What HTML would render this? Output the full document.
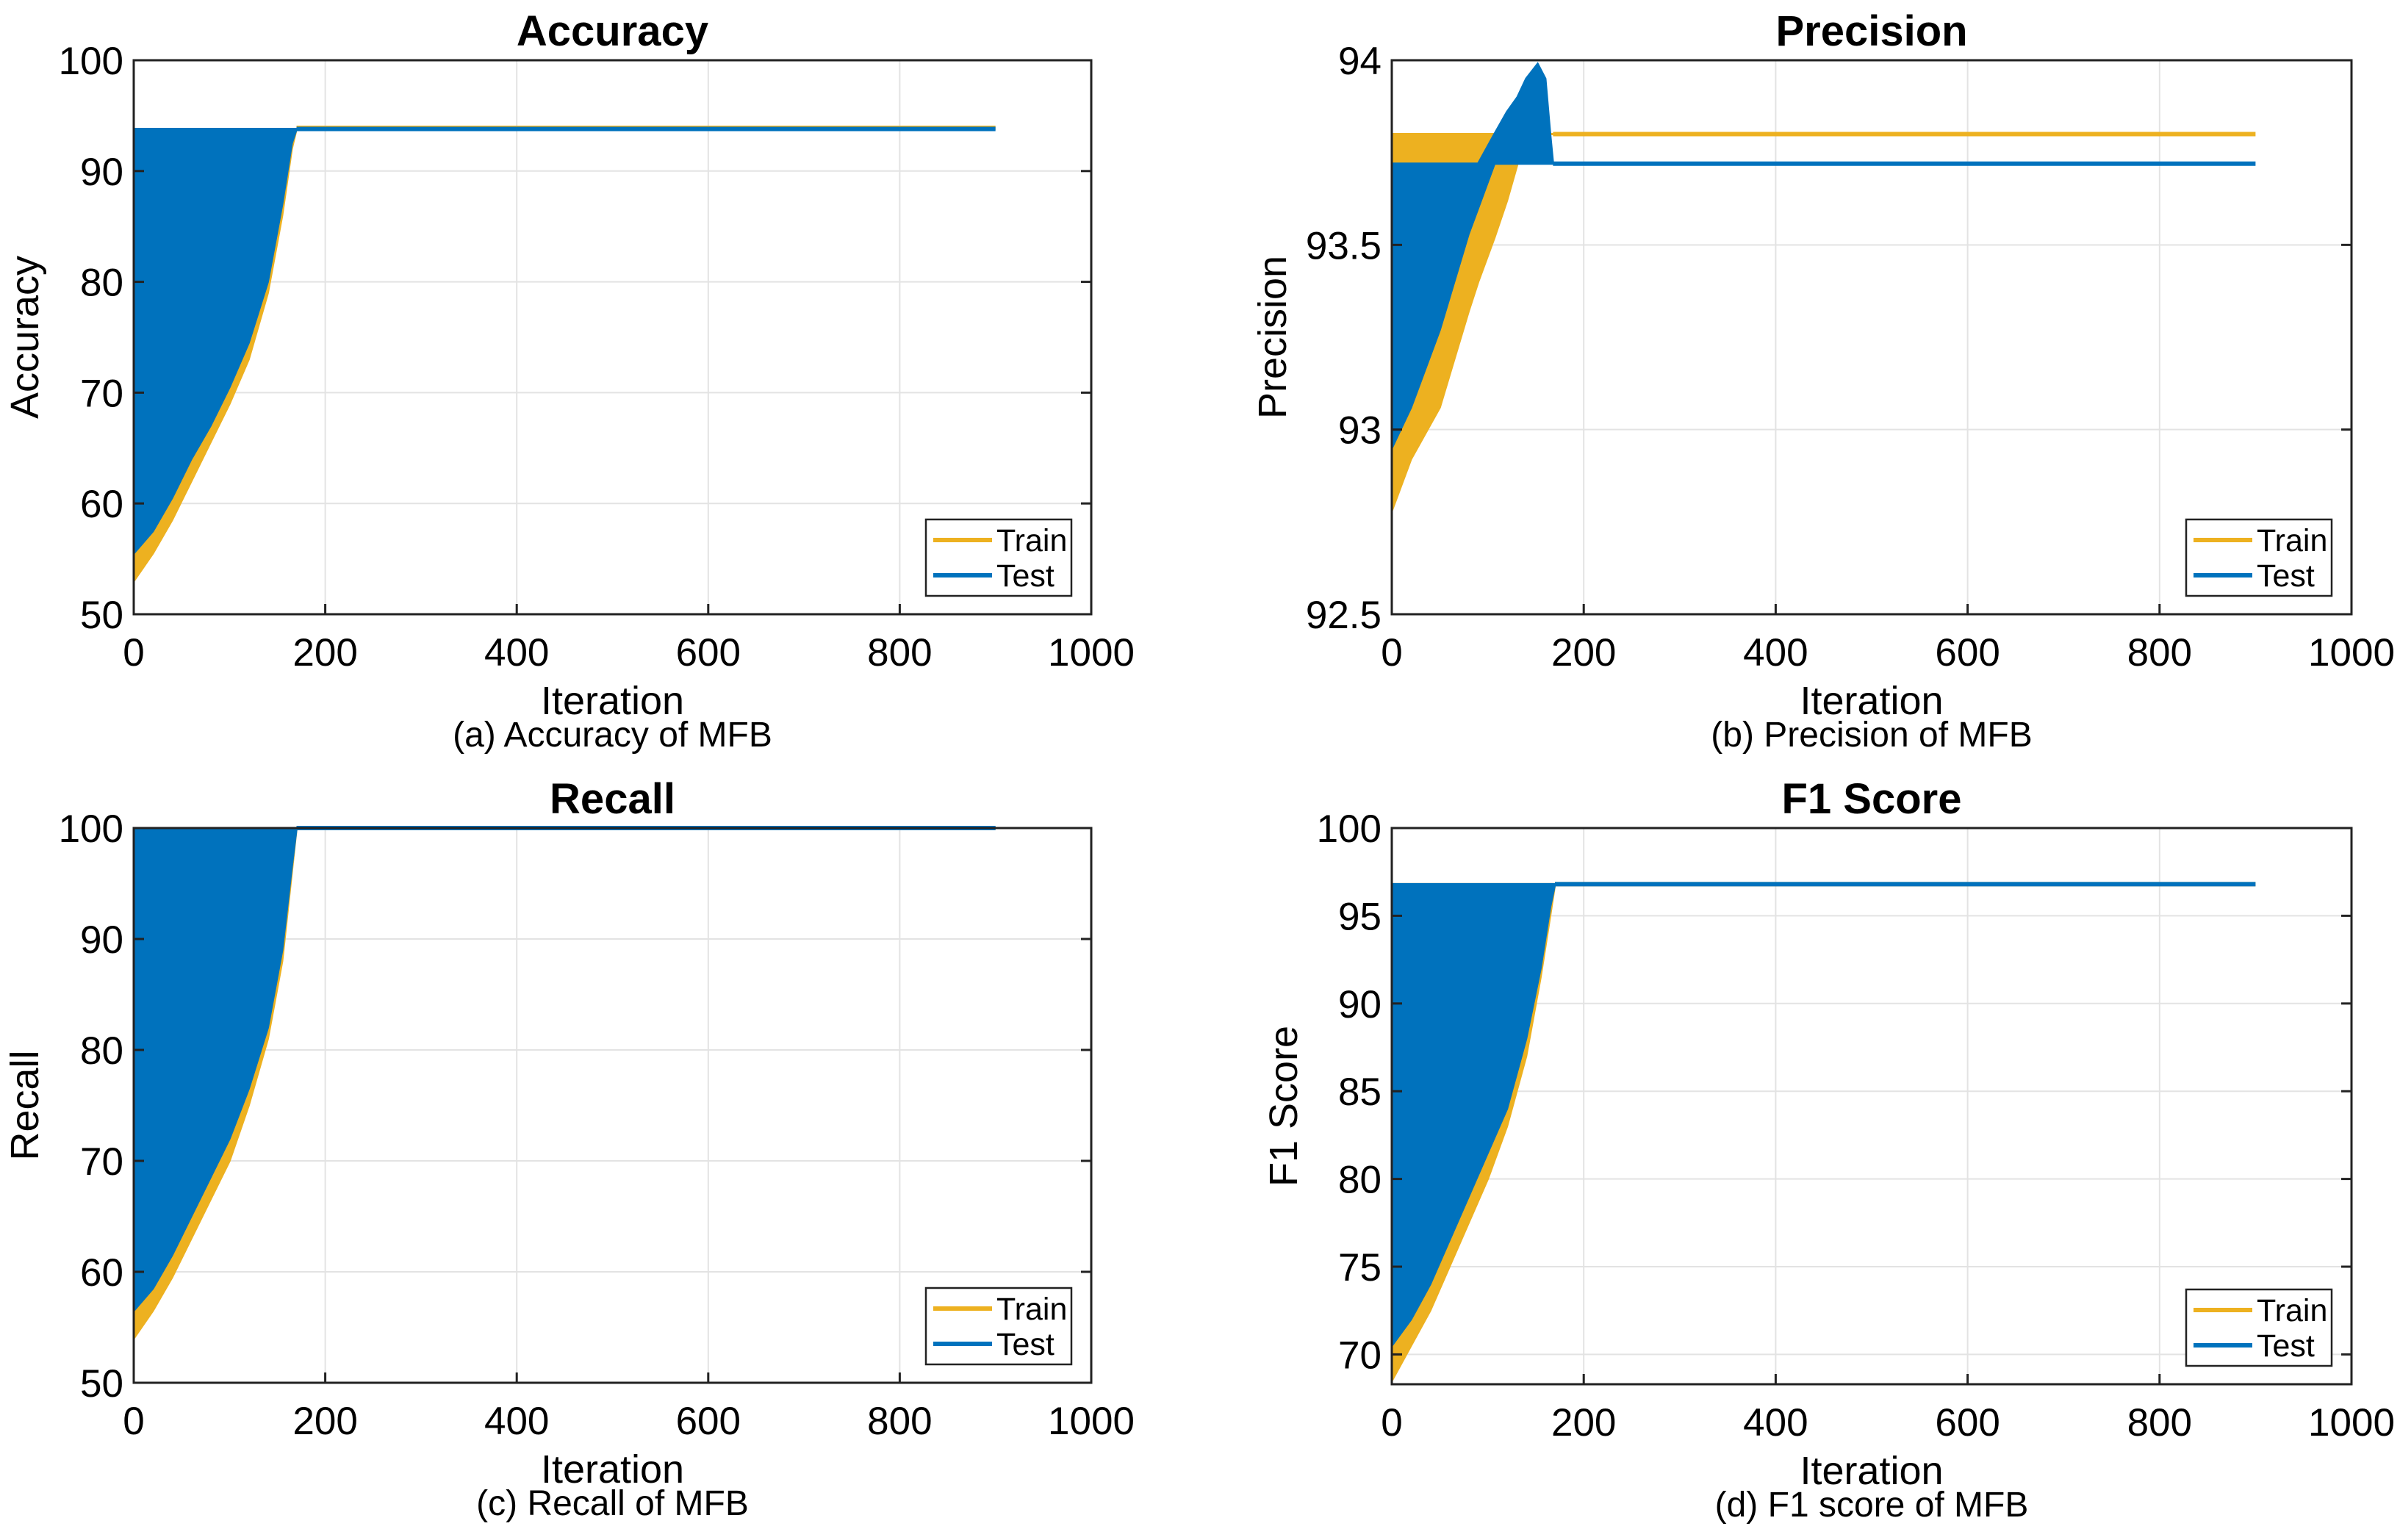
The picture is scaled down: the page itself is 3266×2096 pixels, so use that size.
<!DOCTYPE html>
<html><head><meta charset="utf-8">
<style>
html,body{margin:0;padding:0;background:#fff;}
svg{display:block;}
text{font-family:"Liberation Sans",sans-serif;fill:#000;}
</style></head>
<body>
<svg id="fig" width="3266" height="2096" viewBox="0 0 3266 2096" xmlns="http://www.w3.org/2000/svg"></svg>
<script>
// ---- data ----
const accIter = [0,20,40,60,80,100,120,140,155,165,170];
const accTrainUp = [93.8,93.8,93.8,93.8,93.8,93.8,93.8,93.8,93.8,93.8,93.8];
const accTrainLow = [53,55.5,58.5,62,65.5,69,73,79,86,92,93.8];
const accTestUp = [93.8,93.8,93.8,93.8,93.8,93.8,93.8,93.8,93.8,93.8,93.8];
const accTestLow = [55.5,57.5,60.5,64,67,70.5,74.5,80,87,92.5,93.8];
const accFinal = [93.9,93.8];

const precIter = [0,20,50,80,90,107,120,131,140,152,160,165,168];
const precTrainUp = [93.8,93.8,93.8,93.8,93.8,93.8,93.8,93.8,93.8,93.82,93.9,93.8,93.8];
const precTrainLow = [92.78,92.92,93.06,93.32,93.4,93.52,93.62,93.72,93.8,93.8,93.8,93.8,93.8];
const precTestUp = [93.72,93.72,93.72,93.72,93.72,93.8,93.86,93.9,93.95,93.99,93.95,93.8,93.72];
const precTestLow = [92.95,93.06,93.27,93.53,93.6,93.72,93.72,93.72,93.72,93.72,93.72,93.72,93.72];
const precFinal = [93.8,93.72];

const recIter = [0,20,40,60,80,100,120,140,155,165,170];
const recTrainUp = [100,100,100,100,100,100,100,100,100,100,100];
const recTrainLow = [54,56.5,59.5,63,66.5,70,75,81,88,96,100];
const recTestUp = [100,100,100,100,100,100,100,100,100,100,100];
const recTestLow = [56.5,58.5,61.5,65,68.5,72,76.5,82,89,96.5,100];
const recFinal = [100,100];

const f1Iter = [0,20,40,60,80,100,120,140,155,165,170];
const f1TrainUp = [96.8,96.8,96.8,96.8,96.8,96.8,96.8,96.8,96.8,96.8,96.8];
const f1TrainLow = [68.5,70.5,72.5,75,77.5,80,83,87,91.5,95,96.8];
const f1TestUp = [96.8,96.8,96.8,96.8,96.8,96.8,96.8,96.8,96.8,96.8,96.8];
const f1TestLow = [70.5,72,74,76.5,79,81.5,84,88,92,95.5,96.8];
const f1Final = [96.8,96.8];

const lastIter = 900;
const xTicks = [0,200,400,600,800,1000];
const accYTicks = [50,60,70,80,90,100];
const precYTicks = [92.5,93,93.5,94];
const recYTicks = [50,60,70,80,90,100];
const f1YTicks = [70,75,80,85,90,95,100];

const NS = "http://www.w3.org/2000/svg";
const svg = document.getElementById('fig');
const BLUE = "#0072BD", YEL = "#EDB120";

function mk(tag, attrs, parent){
  const e = document.createElementNS(NS, tag);
  for (const k in attrs) e.setAttribute(k, attrs[k]);
  (parent||svg).appendChild(e);
  return e;
}

function panel(cfg){
  const g = mk('g', {});
  
  
  const X = v => cfg.x0 + (v - 0) / 1000 * (cfg.x1 - cfg.x0);
  const Y = v => cfg.y1 - (v - cfg.ymin) / (cfg.ymax - cfg.ymin) * (cfg.y1 - cfg.y0);
  xTicks.forEach(t => {
    const l = mk('line', {x1:X(t), x2:X(t), y1:cfg.y0, y2:cfg.y1, stroke:'#e3e3e3', 'stroke-width':2}, g);
    
    
  });
  cfg.yTicks.forEach(t => {
    const l = mk('line', {x1:cfg.x0, x2:cfg.x1, y1:Y(t), y2:Y(t), stroke:'#e3e3e3', 'stroke-width':2}, g);
    
    
  });
  function band(up, low, color, name){
    let pts = [];
    cfg.iter.forEach((it,i) => pts.push(X(it)+','+Y(up[i])));
    for (let i = cfg.iter.length-1; i >= 0; i--) pts.push(X(cfg.iter[i])+','+Y(low[i]));
    const p = mk('polygon', {points:pts.join(' '), fill:color, stroke:color, 'stroke-width':3}, g);
    
    
  }
  band(cfg.trainUp, cfg.trainLow, YEL, 'train-band');
  const itEnd = cfg.iter[cfg.iter.length-1];
  const trl = mk('line', {x1:X(itEnd), x2:X(lastIter), y1:Y(cfg.final[0]), y2:Y(cfg.final[0]), stroke:YEL, 'stroke-width':6}, g);
  
  
  band(cfg.testUp, cfg.testLow, BLUE, 'test-band');
  const tel = mk('line', {x1:X(itEnd), x2:X(lastIter), y1:Y(cfg.final[1]), y2:Y(cfg.final[1]), stroke:BLUE, 'stroke-width':6}, g);
  
  
  const box = mk('rect', {x:cfg.x0, y:cfg.y0, width:cfg.x1-cfg.x0, height:cfg.y1-cfg.y0, fill:'none', stroke:'#222', 'stroke-width':3}, g);
  
  
  xTicks.forEach(t => {
    const tk = mk('line', {x1:X(t), x2:X(t), y1:cfg.y1, y2:cfg.y1-14, stroke:'#222', 'stroke-width':3}, g);
    
    
    const tx = mk('text', {x:X(t), y:cfg.y1+70, 'text-anchor':'middle', 'font-size':53}, g);
    tx.textContent = t;
    
    
  });
  cfg.yTicks.forEach(t => {
    const tk = mk('line', {x1:cfg.x0, x2:cfg.x0+14, y1:Y(t), y2:Y(t), stroke:'#222', 'stroke-width':3}, g);
    
    
    const tk2 = mk('line', {x1:cfg.x1, x2:cfg.x1-14, y1:Y(t), y2:Y(t), stroke:'#222', 'stroke-width':3}, g);
    
    
    const tx = mk('text', {x:cfg.x0-14, y:Y(t)+19, 'text-anchor':'end', 'font-size':53}, g);
    tx.textContent = t;
    
    
  });
  const cx = (cfg.x0+cfg.x1)/2;
  const ti = mk('text', {x:cx, y:cfg.y0-20, 'text-anchor':'middle', 'font-size':58, 'font-weight':'bold'}, g);
  ti.textContent = cfg.title;
  
  
  const xl = mk('text', {x:cx, y:cfg.y1+136, 'text-anchor':'middle', 'font-size':54}, g);
  xl.textContent = 'Iteration';
  
  
  const cy = (cfg.y0+cfg.y1)/2;
  const yl = mk('text', {x:cfg.ylx, y:cy, 'text-anchor':'middle', 'font-size':54, transform:'rotate(-90 '+cfg.ylx+' '+cy+')'}, g);
  yl.textContent = cfg.ylabel;
  
  
  const cap = mk('text', {x:cx, y:cfg.y1+180, 'text-anchor':'middle', 'font-size':48}, g);
  cap.textContent = cfg.caption;
  
  
  const lw = 198, lh = 104, lx = cfg.x1 - 27 - lw, ly = cfg.y1 - 25 - lh;
  const lg = mk('g', {}, g);
  
  
  mk('rect', {x:lx, y:ly, width:lw, height:lh, fill:'#fff', stroke:'#222', 'stroke-width':2.5}, lg);
  [['Train',YEL],['Test',BLUE]].forEach((e,i) => {
    const yy = ly + 28 + i*48;
    const ent = mk('g', {}, lg);
    
    
    mk('line', {x1:lx+10, x2:lx+90, y1:yy, y2:yy, stroke:e[1], 'stroke-width':6}, ent);
    const t = mk('text', {x:lx+96, y:yy+15, 'font-size':43}, ent);
    t.textContent = e[0];
  });
}

panel({key:'accuracy', x0:182, x1:1485, y0:82, y1:836, ymin:50, ymax:100, yTicks:accYTicks,
  iter:accIter, trainUp:accTrainUp, trainLow:accTrainLow, testUp:accTestUp, testLow:accTestLow, final:accFinal,
  title:'Accuracy', ylabel:'Accuracy', caption:'(a) Accuracy of MFB', ylx:52});
panel({key:'precision', x0:1894, x1:3200, y0:82, y1:836, ymin:92.5, ymax:94, yTicks:precYTicks,
  iter:precIter, trainUp:precTrainUp, trainLow:precTrainLow, testUp:precTestUp, testLow:precTestLow, final:precFinal,
  title:'Precision', ylabel:'Precision', caption:'(b) Precision of MFB', ylx:1750});
panel({key:'recall', x0:182, x1:1485, y0:1127, y1:1882, ymin:50, ymax:100, yTicks:recYTicks,
  iter:recIter, trainUp:recTrainUp, trainLow:recTrainLow, testUp:recTestUp, testLow:recTestLow, final:recFinal,
  title:'Recall', ylabel:'Recall', caption:'(c) Recall of MFB', ylx:52});
panel({key:'f1-score', x0:1894, x1:3200, y0:1127, y1:1884, ymin:68.3, ymax:100, yTicks:f1YTicks,
  iter:f1Iter, trainUp:f1TrainUp, trainLow:f1TrainLow, testUp:f1TestUp, testLow:f1TestLow, final:f1Final,
  title:'F1 Score', ylabel:'F1 Score', caption:'(d) F1 score of MFB', ylx:1765});
</script>
</body></html>
